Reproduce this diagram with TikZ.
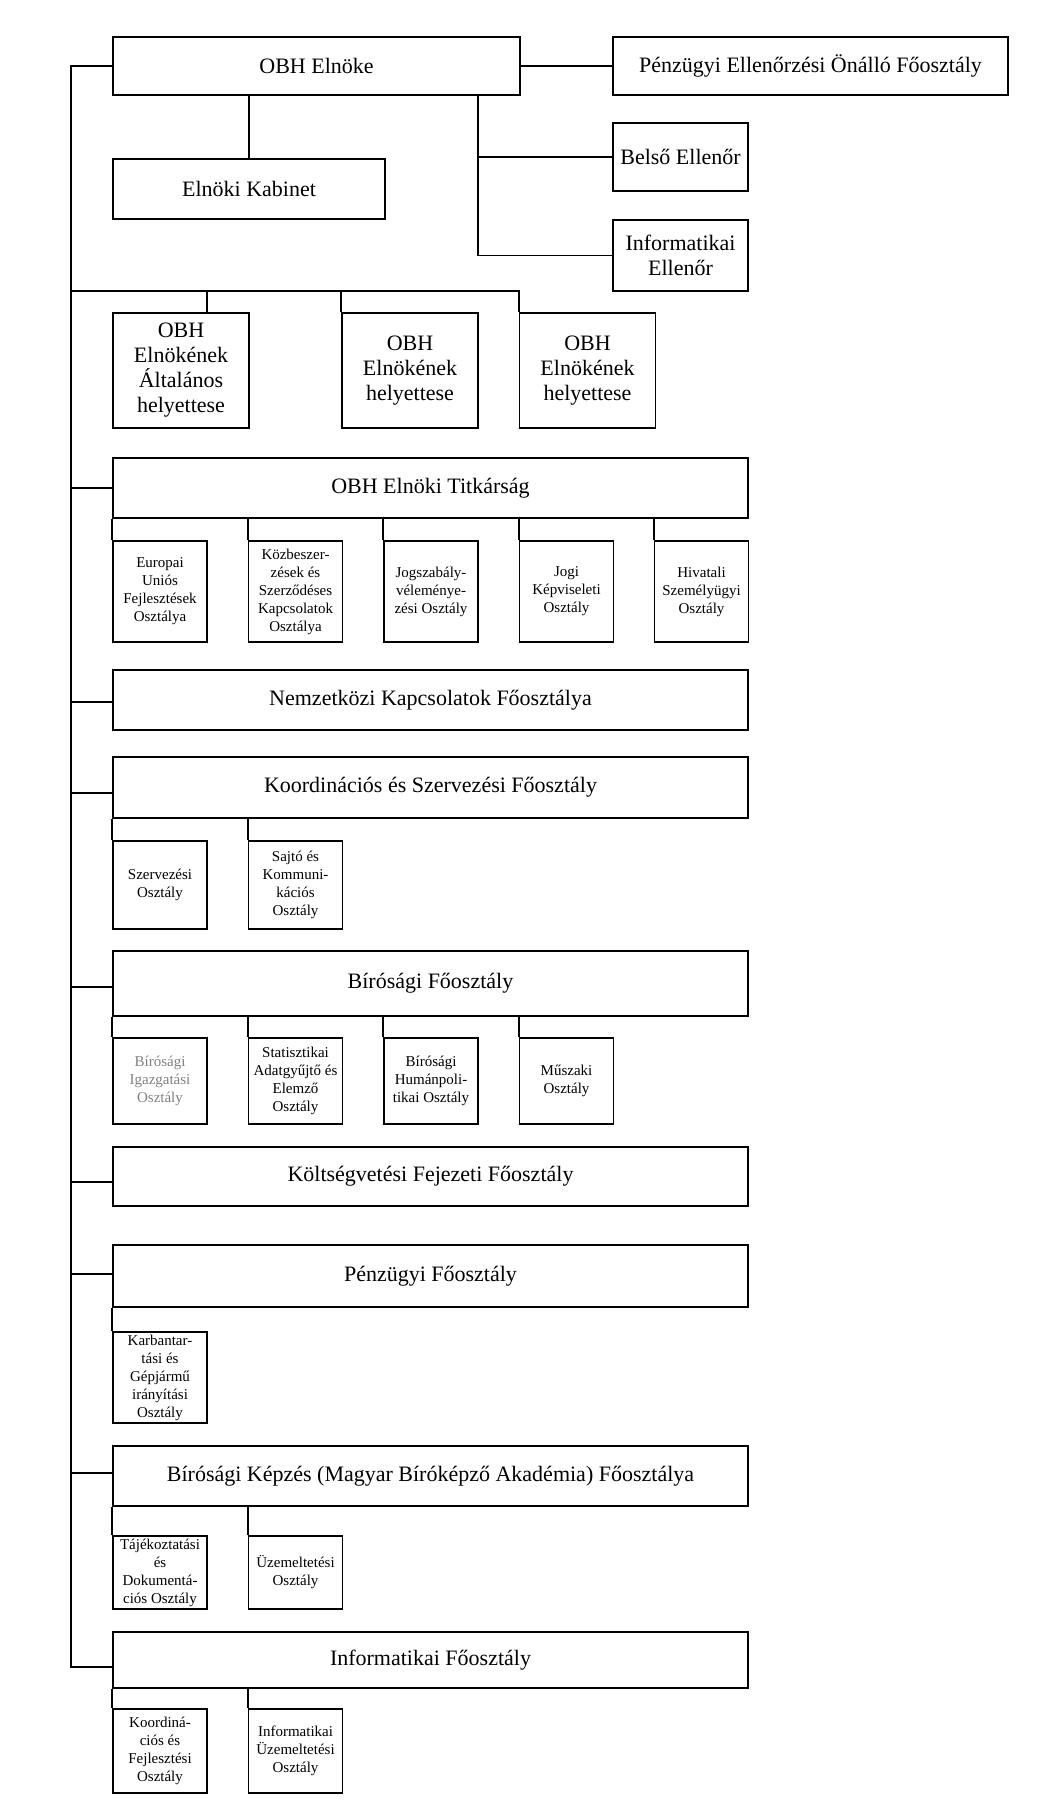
\documentclass[tikz,border=0pt]{standalone}
\usepackage{fontspec}
\setmainfont{Liberation Serif}
\begin{document}
\begin{tikzpicture}[x=0.5pt,y=-0.5pt,
  box/.style={draw, line width=0.85pt, inner sep=1pt, align=center, font=\fontsize{11}{12.5}\selectfont},
  wide/.style={box, minimum width=317.5pt, minimum height=30.5pt},
  dbox/.style={box, minimum width=68pt, minimum height=57.5pt},
  sbox/.style={draw, line width=0.85pt, inner sep=0pt, align=center, minimum width=47pt, font=\fontsize{7.5}{9}\selectfont},
  conn/.style={line width=0.85pt}]
\useasboundingbox (0,0) rectangle (1059,1802);
% top level
\node[box, minimum width=203.5pt, minimum height=29pt] (obh) at (316.5,66) {OBH Elnöke};
\node[box, minimum width=197.5pt, minimum height=29pt] (pell) at (810.5,66) {Pénzügyi Ellenőrzési Önálló Főosztály};
\node[box, minimum width=136pt, minimum height=30pt] (kab) at (249,189) {Elnöki Kabinet};
\node[box, minimum width=67.5pt, minimum height=34pt] (belso) at (680.5,157) {Belső Ellenőr};
\node[box, minimum width=67.5pt, minimum height=35.5pt] (infell) at (680.5,255.5) {Informatikai\\Ellenőr};
\node[dbox] (dep1) at (181,370.5) {OBH\\Elnökének\\Általános\\helyettese};
\node[dbox] (dep2) at (410,370.5) {OBH\\Elnökének\\helyettese};
\node[dbox] (dep3) at (587.5,370.5) {OBH\\Elnökének\\helyettese};
% Titkarsag
\node[wide, minimum height=30pt] (titk) at (430.5,488) {OBH Elnöki Titkárság};
\node[sbox, minimum height=50.5pt] (t1) at (160,591.5) {Europai\\Uniós\\Fejlesztések\\Osztálya};
\node[sbox, minimum height=50.5pt] (t2) at (295.5,591.5) {Közbeszer-\\zések és\\Szerződéses\\Kapcsolatok\\Osztálya};
\node[sbox, minimum height=50.5pt] (t3) at (431,591.5) {Jogszabály-\\véleménye-\\zési Osztály};
\node[sbox, minimum height=50.5pt] (t4) at (566.5,591.5) {Jogi\\Képviseleti\\Osztály};
\node[sbox, minimum height=50.5pt] (t5) at (701.5,591.5) {Hivatali\\Személyügyi\\Osztály};
% Nemzetkozi
\node[wide, minimum height=30pt] (nemz) at (430.5,700) {Nemzetközi Kapcsolatok Főosztálya};
% Koordinacios
\node[wide] (koord) at (430.5,787.5) {Koordinációs és Szervezési Főosztály};
\node[sbox, minimum height=44pt] (k1) at (160,885) {Szervezési\\Osztály};
\node[sbox, minimum height=44pt] (k2) at (295.5,885) {Sajtó és\\Kommuni-\\kációs\\Osztály};
% Birosagi
\node[wide, minimum height=32.5pt] (bir) at (430.5,983.5) {Bírósági Főosztály};
\node[sbox, minimum height=43pt, text=gray] (b1) at (160,1081) {Bírósági\\Igazgatási\\Osztály};
\node[sbox, minimum height=43pt] (b2) at (295.5,1081) {Statisztikai\\Adatgyűjtő és\\Elemző\\Osztály};
\node[sbox, minimum height=43pt] (b3) at (431,1081) {Bírósági\\Humánpoli-\\tikai Osztály};
\node[sbox, minimum height=43pt] (b4) at (566.5,1081) {Műszaki\\Osztály};
% Koltsegvetesi
\node[wide, minimum height=29.5pt] (kolts) at (430.5,1176.5) {Költségvetési Fejezeti Főosztály};
% Penzugyi
\node[wide, minimum height=31pt] (penz) at (430.5,1276) {Pénzügyi Főosztály};
\node[sbox, minimum height=45.5pt] (p1) at (160,1377.5) {Karbantar-\\tási és\\Gépjármű\\irányítási\\Osztály};
% Kepzes
\node[wide, minimum height=30pt] (kepz) at (430.5,1476) {Bírósági Képzés (Magyar Bíróképző Akadémia) Főosztálya};
\node[sbox, minimum height=36.5pt] (e1) at (160,1572.5) {Tájékoztatási\\és\\Dokumentá-\\ciós Osztály};
\node[sbox, minimum height=36.5pt] (e2) at (295.5,1572.5) {Üzemeltetési\\Osztály};
% Informatikai
\node[wide, minimum height=28pt] (inf) at (430.5,1660) {Informatikai Főosztály};
\node[sbox, minimum height=42pt] (i1) at (160,1751) {Koordiná-\\ciós és\\Fejlesztési\\Osztály};
\node[sbox, minimum height=42pt] (i2) at (295.5,1751) {Informatikai\\Üzemeltetési\\Osztály};
% connectors
\coordinate (sp) at (71,66);
\coordinate (ib) at ([yshift=-3.5pt]inf.west);
\draw[conn] (obh.west) -- (sp) -- (sp |- ib) -- (ib);
\foreach \n/\s in {titk/0,nemz/-1,koord/-2.75,bir/-1.75,kolts/-2.75,penz/1,kepz/1.5}{
  \coordinate (bp) at ([yshift=\s pt]\n.west);
  \draw[conn] (bp) -- (bp -| sp);
}
\draw[conn] (obh) -- (pell);
\draw[conn] (kab.north) -- (kab.north |- obh.south);
\coordinate (rb) at (478,0);
\draw[conn] (obh.south -| rb) |- (infell.west);
\draw[conn] (belso.west) -- (belso.west -| rb);
\coordinate (hb) at (71,291);
\draw[conn] (hb) -- (hb -| dep3.north west) -- (dep3.north west);
\draw[conn] (hb -| dep2.north west) -- (dep2.north west);
\coordinate (d1) at (207,291);
\draw[conn] (d1) -- (d1 |- dep1.north);
\foreach \n in {t1,t2,t3,t4,t5}
  \draw[conn] (\n.north west) -- (\n.north west |- titk.south);
\foreach \n in {k1,k2}
  \draw[conn] (\n.north west) -- (\n.north west |- koord.south);
\foreach \n in {b1,b2,b3,b4}
  \draw[conn] (\n.north west) -- (\n.north west |- bir.south);
\draw[conn] (p1.north west) -- (p1.north west |- penz.south);
\foreach \n in {e1,e2}
  \draw[conn] (\n.north west) -- (\n.north west |- kepz.south);
\foreach \n in {i1,i2}
  \draw[conn] (\n.north west) -- (\n.north west |- inf.south);
\end{tikzpicture}
\end{document}
